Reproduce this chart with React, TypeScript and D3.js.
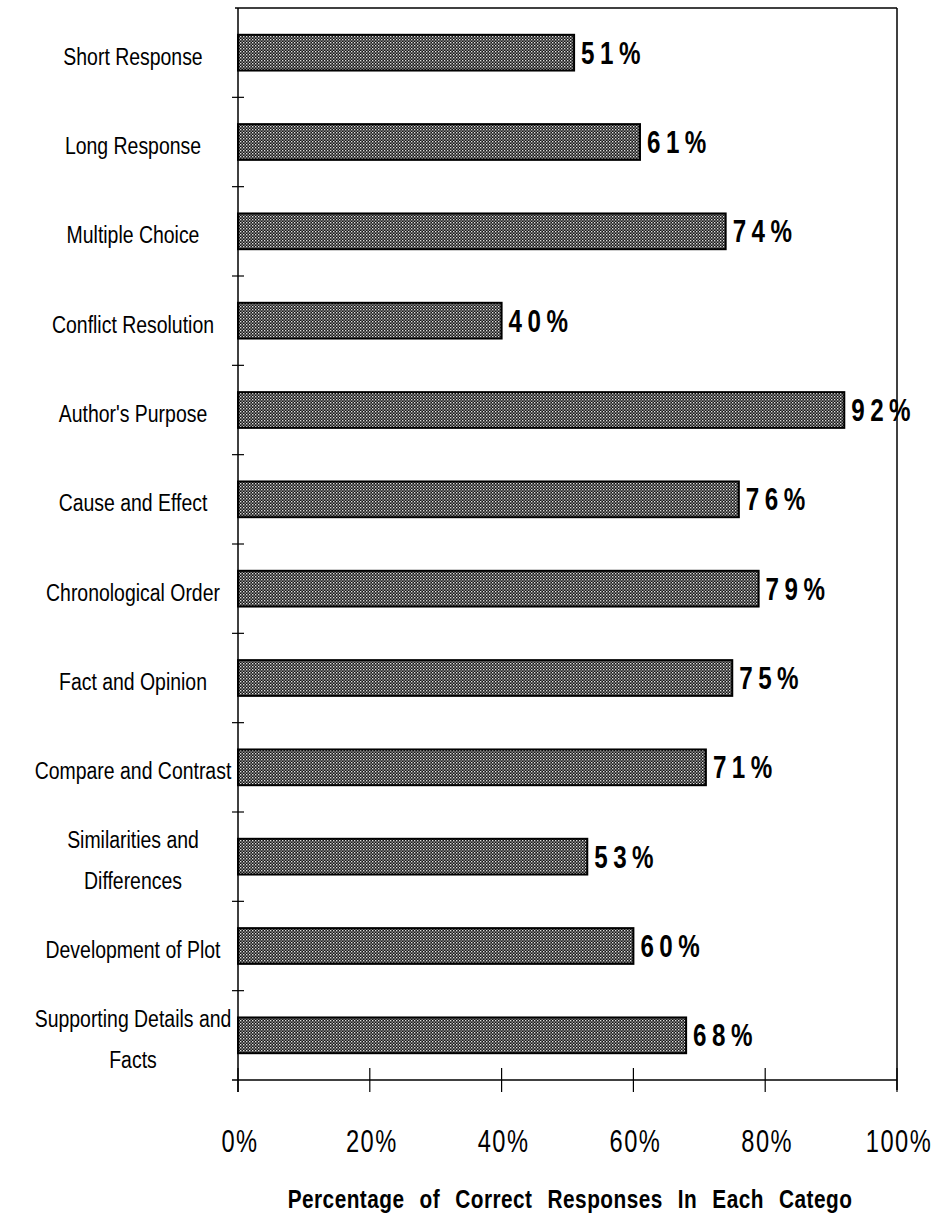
import React from "react";
import * as d3 from "d3";

const categories = [
  "Short Response",
  "Long Response",
  "Multiple Choice",
  "Conflict Resolution",
  "Author's Purpose",
  "Cause and Effect",
  "Chronological Order",
  "Fact and Opinion",
  "Compare and Contrast",
  "Similarities and|Differences",
  "Development of Plot",
  "Supporting Details and|Facts",
];
const values = [51, 61, 74, 40, 92, 76, 79, 75, 71, 53, 60, 68];
const xTicks = [0, 20, 40, 60, 80, 100];
const xTitle = "Percentage of Correct Responses In Each Catego";

const W = 936;
const H = 1227;
const left = 238;
const right = 897;
const top = 8;
const bottom = 1080;
const FONT = "'Liberation Sans', Arial, sans-serif";

function NText(props: {
  x: number;
  y: number;
  sx?: number;
  anchor?: string;
  size: number;
  bold?: boolean;
  ls?: number;
  ws?: number;
  children: React.ReactNode;
}) {
  const { x, y, sx = 0.82, anchor = "start", size, bold, ls = 0, ws = 0, children } = props;
  return (
    <g transform={`translate(${x},${y}) scale(${sx},1)`}>
      <text
        x={0}
        y={0}
        textAnchor={anchor}
        fontFamily={FONT}
        fontSize={size}
        fontWeight={bold ? "bold" : "normal"}
        letterSpacing={ls}
        wordSpacing={ws}
        fill="#000"
      >
        {children}
      </text>
    </g>
  );
}

export default function App() {
  const x = d3.scaleLinear().domain([0, 100]).range([left, right]);
  const y = d3.scaleBand().domain(categories).range([top, bottom]).paddingInner(0.6).paddingOuter(0.3);
  const yb = d3.scaleBand().domain(categories).range([top, bottom]);
  return (
    <svg width={W} height={H} style={{ position: "absolute", left: 0, top: 0, background: "#fff" }}>
      <defs>
        <pattern id="stip" width="3" height="3" patternUnits="userSpaceOnUse">
          <rect width="3" height="3" fill="#151515" />
          <rect x="0" y="0" width="1.4" height="1.4" fill="#e0e0e0" />
          <rect x="1.5" y="1.5" width="1.3" height="1.3" fill="#b8b8b8" />
        </pattern>
      </defs>
      {/* frame */}
      <line x1={left - 3} x2={right} y1={top} y2={top} stroke="#000" strokeWidth={1.5} />
      <line x1={right} x2={right} y1={top} y2={bottom + 10} stroke="#000" strokeWidth={1.5} />
      <line x1={left} x2={left} y1={top} y2={bottom + 12} stroke="#000" strokeWidth={1.5} />
      <line x1={left - 6} x2={right} y1={bottom} y2={bottom} stroke="#000" strokeWidth={1.5} />
      {/* y ticks between categories */}
      {categories.slice(1).map((c) => (
        <line key={c} x1={left - 6} x2={left + 6} y1={yb(c)!} y2={yb(c)!} stroke="#000" strokeWidth={1.2} />
      ))}
      {/* x ticks */}
      {xTicks.map((t) => (
        <g key={t}>
          <line x1={x(t)} x2={x(t)} y1={bottom - 12} y2={bottom + 12} stroke="#000" strokeWidth={1.2} />
          <NText x={x(t) + 2} y={1152} anchor="middle" size={32} sx={0.74} ls={2}>
            {t}%
          </NText>
        </g>
      ))}
      {/* bars */}
      {categories.map((c, i) => (
        <g key={c}>
          <rect x={x(0)} y={y(c)!} width={x(values[i]) - x(0)} height={y.bandwidth()} fill="url(#stip)" stroke="#000" strokeWidth={2} />
          <NText x={x(values[i]) + 7} y={y(c)! + y.bandwidth() / 2 + 11} size={31} bold sx={0.78} ls={7}>
            {values[i]}%
          </NText>
        </g>
      ))}
      {/* category labels */}
      {categories.map((c) => {
        const lines = c.split("|");
        const cy = yb(c)! + yb.bandwidth() / 2;
        const lh = 41;
        return (
          <g key={c}>
            {lines.map((l, j) => (
              <NText key={j} x={133} y={cy + 12 + (j - (lines.length - 1) / 2) * lh} anchor="middle" size={24} sx={0.81}>
                {l}
              </NText>
            ))}
          </g>
        );
      })}
      <NText x={570} y={1208} anchor="middle" size={26} bold sx={0.8} ws={11} ls={0.6}>
        {xTitle}
      </NText>
    </svg>
  );
}
